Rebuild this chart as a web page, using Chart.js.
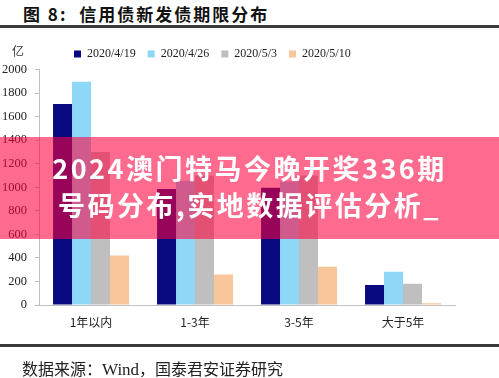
<!DOCTYPE html>
<html><head><meta charset="utf-8">
<script src="https://cdn.jsdelivr.net/npm/chart.js@4"></script>
<style>
html,body{margin:0;padding:0;background:#fff;width:499px;height:378px;overflow:hidden;position:relative;}
#title{position:absolute;left:23px;top:4px;height:20px;line-height:20px;font-family:"Noto Sans CJK SC";font-weight:700;font-size:17px;color:#111;letter-spacing:2px;white-space:nowrap;}
.rule{position:absolute;left:0;width:499px;height:2.5px;background:#3a3a3a;}
#unit{position:absolute;left:12px;top:44px;line-height:14px;font-family:"Noto Sans CJK SC";font-size:12px;color:#333;}
#source{position:absolute;left:22px;top:360px;line-height:16px;font-family:"Noto Sans CJK SC";font-size:16px;color:#222;white-space:nowrap;}
#source .w{font-family:"Liberation Serif";font-size:17px;}
canvas{position:absolute;left:0;top:0;}
#overlay{position:absolute;left:0;top:137px;width:499px;height:102px;background:rgba(255,0,60,0.58);}
.ol{position:absolute;left:0;width:499px;text-align:center;color:#fff;font-family:"Noto Sans CJK SC";font-weight:700;font-size:27px;letter-spacing:2.5px;white-space:nowrap;line-height:30px;}
</style></head>
<body>
<div id="title">图 8:&nbsp; 信用债新发债期限分布</div>
<div class="rule" style="top:25px"></div>
<canvas id="c" width="499" height="378"></canvas>
<div id="unit">亿</div>
<div class="rule" style="top:344px"></div>
<div id="source">数据来源：<span class="w">Wind</span>，国泰君安证券研究</div>
<div id="overlay">
  <div class="ol" style="top:16px">2024澳门特马今晚开奖336期</div>
  <div class="ol" style="top:53px">号码分布,实地数据评估分析_</div>
</div>
<script>
const categories = ['1年以内', '1-3年', '3-5年', '大于5年'];
const seriesNames = ['2020/4/19', '2020/4/26', '2020/5/3', '2020/5/10'];
const s0419 = [1708, 985, 995, 170];
const s0426 = [1895, 1055, 1048, 283];
const s0503 = [1300, 1100, 1100, 180];
const s0510 = [420, 258, 325, 15];
const yMin = 0, yMax = 2000, yStep = 200;
const seriesColors = ['#0a0a80', '#8fd7f7', '#bfbfbf', '#f9c59a'];

const legendPlace = {
  id: 'legendPlace',
  beforeLayout(chart) {
    const lg = chart.legend;
    if (lg && !lg._patched) {
      const f = lg.fit.bind(lg);
      lg.fit = function () { f(); this.height = 20; };
      lg._patched = true;
    }
  },
  afterLayout(chart) {
    const lg = chart.legend;
    if (!lg) return;
    lg.left = 62;
    lg.right = 560;
    lg.top = 36;
    lg.bottom = 76;
    lg.width = lg.right - lg.left;
    lg.height = lg.bottom - lg.top;
  }
};

const allSeries = [s0419, s0426, s0503, s0510];
new Chart(document.getElementById('c'), {
  type: 'bar',
  data: {
    labels: categories,
    datasets: allSeries.map((d, i) => ({
      label: seriesNames[i], data: d, backgroundColor: seriesColors[i],
      borderWidth: 0, barPercentage: 1.0, categoryPercentage: 0.73
    }))
  },
  options: {
    responsive: false, animation: false,
    layout: { padding: { left: 0, right: 44, top: 49.5, bottom: 0 } },
    plugins: {
      legend: {
        display: true, position: 'top', align: 'start',
        labels: { boxWidth: 7, boxHeight: 7, padding: 12, color: '#222',
          font: { family: 'Liberation Serif', size: 12 } }
      },
      tooltip: { enabled: false }
    },
    scales: {
      x: {
        afterFit(s) { s.height = 73; },
        grid: { display: true, drawOnChartArea: false, drawTicks: false },
        border: { display: true, color: '#bfbfbf', width: 1 },
        ticks: { padding: 10, color: '#222', font: { family: 'Noto Sans CJK SC', size: 12 } }
      },
      y: {
        min: yMin, max: yMax,
        afterFit(s) { s.width = 39; },
        grid: { display: true, drawOnChartArea: false, drawTicks: true, tickLength: 4, color: '#bfbfbf' },
        border: { display: true, color: '#bfbfbf', width: 1 },
        ticks: { stepSize: yStep, padding: 8, color: '#222', callback: v => String(v),
          font: { family: 'Liberation Serif', size: 12.5 } }
      }
    }
  },
  plugins: [legendPlace]
});
</script>
</body></html>
